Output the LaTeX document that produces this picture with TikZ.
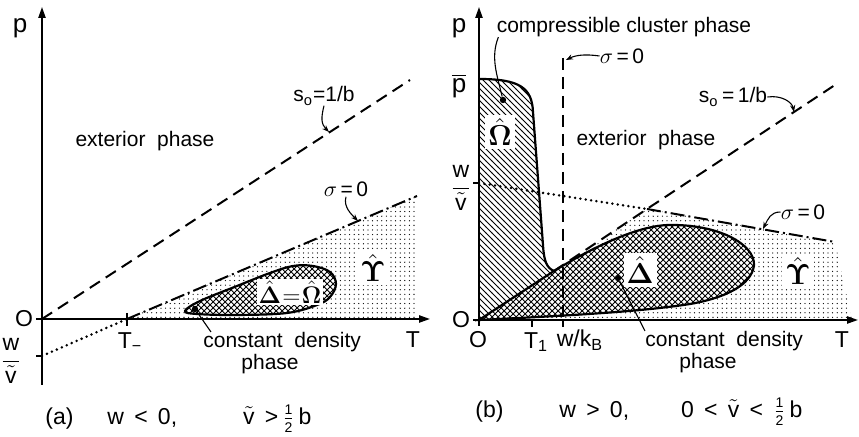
\documentclass[tikz,border=0pt]{standalone}
\usepackage[no-math]{fontspec}
\setmainfont{Liberation Sans}
\usetikzlibrary{arrows.meta,patterns,patterns.meta}
\newcommand{\tv}{\ensuremath{\tilde{\mbox{v}}}}
\newcommand{\wv}{\ensuremath{\displaystyle\frac{\mbox{w}}{\tilde{\mbox{v}}}}}
\newcommand{\halfb}{\ensuremath{\frac{\mbox{\scriptsize 1}}{\mbox{\scriptsize 2}}}\,b}
\begin{document}
\begin{tikzpicture}[x=0.5pt,y=-0.5pt,
  axis/.style={line width=0.9pt},
  axisarrow/.style={axis,-{Triangle[length=5.5pt,width=3.6pt]}},
  dashline/.style={line width=1pt,dash pattern=on 6pt off 3.5pt},
  dashdot/.style={line width=1pt,dash pattern=on 7pt off 2pt on 1pt off 2pt},
  dotline/.style={line width=1.4pt,line cap=round,dash pattern=on 0pt off 2.7pt},
  boundary/.style={line width=1.1pt},
  leader/.style={line width=0.55pt,-{Stealth[length=3.5pt,width=2.6pt]}},
  pointer/.style={line width=0.55pt},
  lbl/.style={font=\fontsize{10.5}{11}\selectfont,inner sep=0pt},
  axlbl/.style={font=\fontsize{11.5}{12}\selectfont,inner sep=0pt},
  greek/.style={font=\fontsize{15}{16}\selectfont,inner sep=1.5pt,fill=white},
  caplbl/.style={font=\fontsize{11.5}{12}\selectfont,inner sep=0pt,anchor=west},
  stipple/.style={pattern={Dots[radius=0.32pt,distance=2.3pt]},pattern color=black},
  xhatch/.style={pattern=crosshatch},
  shatch/.style={pattern=north west lines},
  dotmark/.style={circle,fill,inner sep=0pt,minimum size=3.2pt}
]
\useasboundingbox (0,0) rectangle (859,437);

% ================= panel (a) =================
\coordinate (aO) at (42,319);
\coordinate (aPtop) at (42,7);
\coordinate (aPbot) at (42,385);
\coordinate (aTl) at (36,319);
\coordinate (aTr) at (430,319);
\coordinate (aTm) at (127,319);
\coordinate (aW) at (42,356);
\coordinate (aSigEnd) at (417,196);
\coordinate (aS0End) at (410,80);
\coordinate (aS0Pt) at (329,132);
\coordinate (aSigPt) at (358,221);

% stippled region
\path[stipple] (aTm) -- (aSigEnd) -- (417,319) -- cycle;
% constant density blob
\draw[boundary,xhatch,preaction={fill=white}] plot[smooth cycle,tension=0.6] coordinates
  {(185,311) (200,301) (237,286) (270,273) (293,266) (313,266) (330,272) (336,284) (330,297) (317,305) (287,313) (237,315) (197,314)};

% lines
\draw[dashline] (aO) -- (aS0End);
\draw[dotline] (aW) -- (aTm);
\draw[dashdot] (aTm) -- (aSigEnd);
% axes
\draw[axisarrow] (aPbot) -- (aPtop);
\draw[axisarrow] (aTl) -- (aTr);
\draw[axis] (127,313) -- (127,326);
\draw[axis] (36,356) -- (aW);

% labels
\node[axlbl,font=\fontsize{13}{14}\selectfont] (ap) at (20,28) {p};
\node[axlbl] (aOl) at (24,319) {O};
\node[axlbl] (awv) at (11,361) {\wv};
\node[axlbl] (aTmL) at (130,342) {T\textsubscript{\textminus}};
\node[axlbl] (aT) at (413,340) {T};
\node[lbl] (aext) at (145,141) {exterior\ \ phase};
\node[lbl] (s0a) at (324,96) {s\textsubscript{o}=1/b};
\node[lbl] (sga) at (346,189) {$\sigma$\,=\,0};
\node[greek] (aUps) at (373,268) {$\hat{\mathbf{\Upsilon}}$};
\node[greek,font=\fontsize{11.5}{12}\selectfont,inner sep=0.8pt] (aDO) at (290,292) {$\hat{\mathbf{\Delta}}\mskip-4mu=\mskip-4mu\hat{\mathbf{\Omega}}$};
\node[dotmark] (dotA) at (195,309) {};
\node[lbl,anchor=north west,align=left] (cdA) at (203,332) {constant\ \ density\\\hspace*{19pt}phase};
\node[caplbl] (capA) at (45,419) {(a)\hspace{17pt}w \,<\, 0,\hspace{33pt}\tv\ \,>\,\halfb};

% leaders
\draw[leader] (s0a.south) .. controls +(-3,12) and +(-8,-8) .. (aS0Pt);
\draw[leader] (sga.south) .. controls +(-3,10) and +(-6,-6) .. (aSigPt);
\draw[pointer] (dotA) -- ([xshift=4pt]cdA.north west);

% ================= panel (b) =================
\coordinate (bO) at (479,320);
\coordinate (bPtop) at (479,7);
\coordinate (bPbot) at (479,326);
\coordinate (bTl) at (473,320);
\coordinate (bTr) at (858,320);
\coordinate (bW) at (479,183);
\coordinate (bJ) at (554,271);
\coordinate (bC) at (647,209);
\coordinate (bS0End) at (838,83);
\coordinate (bSigEnd) at (835,242);
\coordinate (bVtop) at (563,58);
\coordinate (bVbot) at (563,320);
\coordinate (bS0Pt) at (794,112);
\coordinate (bSigPt) at (763,229);
\coordinate (bVPt) at (566,60);

% stippled region
\path[stipple] (bO) -- (bJ) -- (bC) -- (bSigEnd) -- (852,320) -- cycle;
% hatched compressible cluster region
\path[shatch] (479,79) .. controls (520,79) and (532,88) .. (533,112) -- (543,245)
   .. controls (544,262) and (547,268) .. (bJ) -- (bO) -- cycle;
\draw[boundary] (479,79) .. controls (520,79) and (532,88) .. (533,112) -- (543,245)
   .. controls (544,262) and (547,268) .. (bJ);
% constant density blob
\draw[boundary,xhatch,preaction={fill=white}] (bO) -- (bJ)
   .. controls (600,243) and (640,226) .. (668,225)
   .. controls (720,224) and (755,245) .. (754,265)
   .. controls (752,285) and (725,298) .. (690,304)
   .. controls (640,312) and (560,316) .. (bO) -- cycle;

% lines
\draw[dashline] (bJ) -- (bC) -- (bS0End);
\draw[dotline] (bW) -- (bC);
\draw[dashdot] (bC) -- (bSigEnd);
\draw[dashline] (bVtop) -- (bVbot);
% axes
\draw[axisarrow] (bPbot) -- (bPtop);
\draw[axisarrow] (bTl) -- (bTr);
\draw[axis] (473,183) -- (bW);
\draw[axis] (532,320) -- (532,327);
\draw[axis] (563,320) -- (563,327);

% labels
\node[axlbl,font=\fontsize{13}{14}\selectfont] (bp) at (459,28) {p};
\node[axlbl,font=\fontsize{13}{14}\selectfont] (bpbar) at (459,86) {$\overline{\mbox{p}}$};
\node[axlbl] (bwv) at (461,188) {\wv};
\node[axlbl] (bOl) at (461,320) {O};
\node[axlbl] (bOb) at (478,340) {O};
\node[axlbl] (bT1) at (536,342) {T\textsubscript{1}};
\node[axlbl] (bwk) at (580,340) {w/k\textsubscript{B}};
\node[axlbl] (bT) at (842,340) {T};
\node[lbl] (ccb) at (624,27) {compressible cluster phase};
\node[lbl] (sgb1) at (622,56) {$\sigma$\,=\,0};
\node[lbl] (bext) at (646,140) {exterior\ \ phase};
\node[lbl] (s0b) at (733,97) {s\textsubscript{o}\,=\,1/b};
\node[lbl] (sgb2) at (803,212) {$\sigma$\,=\,0};
\node[greek] (bOm) at (500,132) {$\hat{\mathbf{\Omega}}$};
\node[greek] (bDe) at (640,270) {$\hat{\mathbf{\Delta}}$};
\node[greek] (bUps) at (798,271) {$\hat{\mathbf{\Upsilon}}$};
\node[dotmark] (dotB1) at (503,100) {};
\node[dotmark] (dotB2) at (618,278) {};
\node[lbl,anchor=north west,align=left] (cdB) at (645,331) {constant\ \ density\\\hspace*{17pt}phase};
\node[caplbl] (capB) at (475,412) {(b)\hspace{28pt}w \,>\, 0,\hspace{26pt}0 \,<\, \tv\ \,<\, \halfb};

% leaders
\draw[pointer] ([xshift=1pt]ccb.south west) .. controls +(-8,20) and +(-6,-25) .. (dotB1);
\draw[leader] (sgb1.west) .. controls +(-14,-2) and +(10,-5) .. (bVPt);
\draw[leader] (s0b.east) .. controls +(14,-2) and +(-2,-10) .. (bS0Pt);
\draw[leader] (sgb2.west) .. controls +(-10,0) and +(5,-10) .. (bSigPt);
\draw[pointer] (dotB2) -- ([xshift=0pt]cdB.north west);
\end{tikzpicture}
\end{document}
